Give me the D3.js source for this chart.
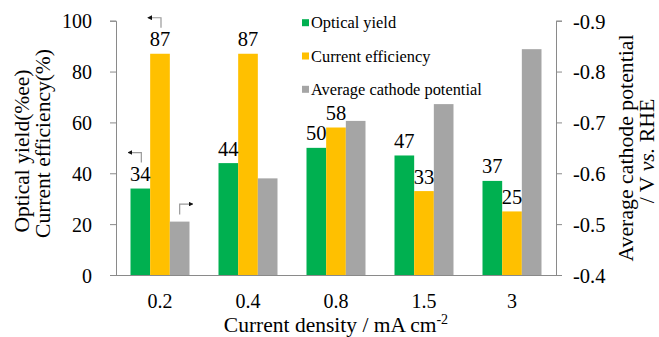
<!DOCTYPE html>
<html><head><meta charset="utf-8">
<script src="https://cdn.jsdelivr.net/npm/d3@7"></script>
</head>
<body style="margin:0;background:#fff">
<svg id="c" width="659" height="337"></svg>
<script>
const categories = ["0.2","0.4","0.8","1.5","3"];
const opticalYield = [34,44,50,47,37];
const currentEfficiency = [87,87,58,33,25];
const cathodePotential = [-0.505,-0.59,-0.703,-0.736,-0.844];
const leftTicks = [0,20,40,60,80,100];
const rightTicks = [-0.4,-0.5,-0.6,-0.7,-0.8,-0.9];
const seriesNames = ["Optical yield","Current efficiency","Average cathode potential"];
const seriesColors = ["#00B050","#FFC000","#A5A5A5"];
// annotation arrows: [series index, category index, direction]
const annotations = [[0,0,"left"],[1,0,"left"],[2,0,"right"]];

const svg = d3.select("#c");
const L=116, R=556, B=275, T=20.7;
const axisColor="#8a8a8a";

const x0 = d3.scaleBand().domain(categories).range([L,R]).padding(0);
const x1 = d3.scaleBand().domain([0,1,2]).range([14.5, x0.bandwidth()-14.5]).padding(0);
const yL = d3.scaleLinear().domain([0,100]).range([B,T]);
const yR = d3.scaleLinear().domain([-0.4,-0.9]).range([B,T]);

const seriesVals = [opticalYield, currentEfficiency, cathodePotential];
const scaleFor = s => s===2 ? yR : yL;

// bars
seriesVals.forEach((vals,s)=>{
  svg.append("g").selectAll("rect").data(vals).join("rect")
    .attr("x",(d,i)=>x0(categories[i])+x1(s))
    .attr("width",x1.bandwidth())
    .attr("y",d=>scaleFor(s)(d))
    .attr("height",d=>B-scaleFor(s)(d))
    .attr("fill",seriesColors[s]);
});

// value labels
[0,1].forEach(s=>{
  svg.append("g").selectAll("text").data(seriesVals[s]).join("text")
    .attr("x",(d,i)=>x0(categories[i])+x1(s)+x1.bandwidth()/2)
    .attr("y",d=>yL(d)-7.5)
    .attr("text-anchor","middle")
    .style("font-size","20.5px")
    .text(d=>d);
});

// left axis
const gl = svg.append("g").attr("transform",`translate(${L},0)`)
  .call(d3.axisLeft(yL).tickValues(leftTicks).tickSize(6).tickPadding(18).tickFormat(d=>String(d)));
gl.select(".domain").attr("stroke",axisColor);
gl.selectAll(".tick line").attr("stroke",axisColor);
gl.selectAll(".tick text").style("font-size","20px").attr("dy","0.36em");

// right axis
const gr = svg.append("g").attr("transform",`translate(${R},0)`)
  .call(d3.axisRight(yR).tickValues(rightTicks).tickSize(6).tickPadding(11).tickFormat(d=>d.toFixed(1)));
gr.select(".domain").attr("stroke",axisColor);
gr.selectAll(".tick line").attr("stroke",axisColor);
gr.selectAll(".tick text").style("font-size","20.5px").attr("dy","0.36em");

// bottom axis
const gb = svg.append("g").attr("transform",`translate(0,${B})`)
  .call(d3.axisBottom(x0).tickSize(0).tickPadding(19));
gb.select(".domain").attr("stroke",axisColor).attr("d",`M${L-6},0.5H${R+6}`);
gb.selectAll(".tick text").style("font-size","20px");

// x title
const xt = svg.append("text").attr("x",336).attr("y",332).attr("text-anchor","middle").style("font-size","21.5px");
xt.append("tspan").text("Current density / mA cm");
xt.append("tspan").style("font-size","14px").attr("dy",-8.5).text("-2");

// left title
const lt = svg.append("g").attr("transform","rotate(-90)");
lt.append("text").attr("x",-151).attr("y",28.5).attr("text-anchor","middle").style("font-size","21.5px").text("Optical yield(%ee)");
lt.append("text").attr("x",-143.5).attr("y",50).attr("text-anchor","middle").style("font-size","21.5px").text("Current efficiency(%)");

// right title
const rt = svg.append("g").attr("transform","rotate(-90)");
rt.append("text").attr("x",-148).attr("y",633).attr("text-anchor","middle").style("font-size","21.8px").text("Average cathode potential");
const rt2 = rt.append("text").attr("x",-151).attr("y",653.5).attr("text-anchor","middle").style("font-size","21.8px");
rt2.append("tspan").text("/ V ");
rt2.append("tspan").style("font-style","italic").text("vs.");
rt2.append("tspan").text(" RHE");

// legend
const lg = svg.append("g");
seriesNames.forEach((n,i)=>{
  const cy = 22.7 + i*33.3;
  lg.append("rect").attr("x",302).attr("y",cy-3.5).attr("width",7).attr("height",7).attr("fill",seriesColors[i]);
  lg.append("text").attr("x",311).attr("y",cy+5.5).style("font-size","16.4px").text(n);
});

// annotation arrows
svg.append("defs").append("marker").attr("id","ah").attr("viewBox","0 0 6 6").attr("refX",5).attr("refY",3)
  .attr("markerWidth",4).attr("markerHeight",4).attr("orient","auto")
  .append("path").attr("d","M0,0L6,3L0,6Z").attr("fill","#111");
annotations.forEach(([s,i,dir])=>{
  const cx = x0(categories[i])+x1(s)+x1.bandwidth()/2;
  const top = scaleFor(s)(seriesVals[s][i]);
  let d;
  if(dir==="left"){
    const vx = cx+1, y1 = top-36, y2 = top-26;
    d = `M${vx},${y2}V${y1}H${vx-13}`;
  } else {
    const vx = cx, y1 = top-7, y2 = top-17.5;
    d = `M${vx},${y1}V${y2}H${vx+13}`;
  }
  svg.append("path").attr("d",d).attr("fill","none").attr("stroke","#999").attr("stroke-width",1.2)
    .attr("marker-end","url(#ah)");
});

svg.selectAll("text").style("font-family","Liberation Serif").style("fill","#000");
</script></body></html>
